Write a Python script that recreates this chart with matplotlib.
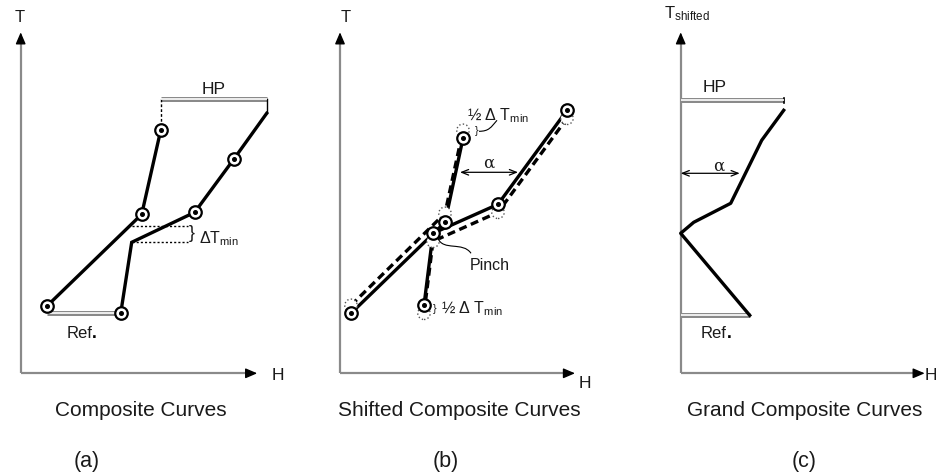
import matplotlib
matplotlib.use("Agg")
import matplotlib.pyplot as plt
from matplotlib.path import Path
from matplotlib.patches import PathPatch

plt.rcParams['font.family'] = ['Liberation Sans', 'DejaVu Sans']
plt.rcParams['mathtext.fontset'] = 'custom'
plt.rcParams['mathtext.rm'] = 'Liberation Sans'
plt.rcParams['mathtext.it'] = 'Liberation Sans'

W, HGT = 936, 476

# ---------------- data (H, T in diagram units) ----------------
# Panel (a) composite curves
a_hot_H = [26, 121, 140]
a_hot_T = [67, 159, 243]
a_cold_H = [100, 111, 174, 213, 246]
a_cold_T = [60, 131, 161, 214, 260]
a_cold_marked = [0, 2, 3]
a_dt_H = [111, 167]
a_dt_T = [131, 147]
a_hp_H = [140, 246]
a_hp_T = 274
a_ref_H = [26, 100]
a_ref_T = 60

# Panel (b) shifted composite curves
b_hot_H = [11, 105, 123]
b_hot_T_shift = [60, 151, 235]
b_hot_T_orig = [68, 160, 243]
b_cold_H = [84, 93, 158, 227]
b_cold_T_shift = [68, 140, 169, 263]
b_cold_T_orig = [60, 132, 161, 255]
b_alpha_H = [120, 178]
b_alpha_T = 201

# Panel (c) grand composite curve
c_H = [69, 0, 13, 50, 81, 103]
c_T = [58, 140, 151, 170, 233, 263]
c_hp_H = [0, 103]
c_hp_T = 273
c_ref_H = [0, 69]
c_ref_T = 58
c_alpha_H = [0, 59]
c_alpha_T = 200

captions = ["Composite Curves", "Shifted Composite Curves", "Grand Composite Curves"]
letters = ["(a)", "(b)", "(c)"]

# ---------------- figure ----------------
fig = plt.figure(figsize=(W / 100, HGT / 100), dpi=100)

AXC = '#8a8a8a'
TXT = '#1a1a1a'


def panel(ox, oy):
    ax = fig.add_axes([0, 0, 1, 1])
    ax.set_xlim(-ox, W - ox)
    ax.set_ylim(oy - HGT, oy)
    ax.axis('off')
    ax.patch.set_alpha(0)
    return ax


def axes_arrows(ax, xend, ytop):
    ax.plot([0, xend - 7], [0, 0], color=AXC, lw=1.6, solid_capstyle='butt')
    ax.plot([0, 0], [0, ytop - 7], color=AXC, lw=1.6, solid_capstyle='butt')
    ax.annotate('', xy=(xend, 0), xytext=(xend - 9, 0),
                arrowprops=dict(arrowstyle='-|>,head_length=0.7,head_width=0.3',
                                color='black', lw=1.0, shrinkA=0, shrinkB=0))
    ax.annotate('', xy=(0, ytop), xytext=(0, ytop - 9),
                arrowprops=dict(arrowstyle='-|>,head_length=0.7,head_width=0.3',
                                color='black', lw=1.0, shrinkA=0, shrinkB=0))


def double_bar(ax, xs, y):
    ax.plot(xs, [y, y], color='#8a8a8a', lw=3.6, solid_capstyle='butt', zorder=2)
    ax.plot(xs, [y, y], color='white', lw=1.2, solid_capstyle='butt', zorder=2.1)


def nodes(ax, xs, ys):
    ax.plot(xs, ys, 'o', ms=9, mfc='white', mec='black', mew=1.6, zorder=6)
    ax.plot(xs, ys, 'o', ms=2.6, color='black', zorder=7)


def dashed_nodes(ax, xs, ys):
    ax.scatter(xs, ys, s=80, facecolors='white', edgecolors='#555555',
               linewidths=1.0, linestyles=':', zorder=4)


def curve(ax, pts, **kw):
    codes = [Path.MOVETO] + [Path.CURVE4] * (len(pts) - 1)
    ax.add_patch(PathPatch(Path(pts, codes), fill=False, **kw))


def ftext(x, y, s, **kw):
    kw.setdefault('color', TXT)
    fig.text(x / W, 1 - y / HGT, s, **kw)


def ref_label(x_end, y):
    ftext(x_end, y, "Ref", ha='right', va='center', fontsize=12)
    ftext(x_end, y, ".", ha='left', va='center', fontsize=12.5, fontweight='bold', color='black')


# ---------------- panel (a) ----------------
oxa, oya = 20.7, 373.3
ax = panel(oxa, oya)
axes_arrows(ax, 236.5, 341)
ax.plot(a_hot_H, a_hot_T, color='black', lw=2.4, zorder=3, solid_joinstyle='miter')
ax.plot(a_cold_H, a_cold_T, color='black', lw=2.4, zorder=3, solid_joinstyle='miter')
nodes(ax, a_hot_H, a_hot_T)
nodes(ax, [a_cold_H[i] for i in a_cold_marked], [a_cold_T[i] for i in a_cold_marked])
for t in a_dt_T:
    ax.plot(a_dt_H, [t, t], color='black', lw=1.0, ls=(0, (1.5, 1.5)), zorder=2)
double_bar(ax, a_hp_H, a_hp_T)
ax.plot([a_hp_H[1], a_hp_H[1]], [a_hp_T, a_cold_T[-1]], color='black', lw=1.0)
ax.plot([a_hp_H[0], a_hp_H[0]], [a_hp_T, a_hot_T[-1] + 7], color='black', lw=1.0, ls=(0, (2, 1.5)))
double_bar(ax, a_ref_H, a_ref_T)
ftext(20, 17, "T", ha='center', va='center', fontsize=12)
ftext(278, 376, "H", ha='center', va='center', fontsize=12.5)
ftext(214, 89, "HP", ha='center', va='center', fontsize=12.5)
ref_label(92, 333)
ftext(191.5, 234, "}", ha='center', va='center', fontsize=13, fontweight='light')
ftext(199, 239, r"ΔT$_{\mathrm{min}}$", ha='left', va='center', fontsize=11.5)

# ---------------- panel (b) ----------------
oxb, oyb = 340, 373.3
ax = panel(oxb, oyb)
axes_arrows(ax, 235, 341)
ax.plot(b_hot_H, b_hot_T_shift, color='black', lw=2.4, zorder=3)
ax.plot(b_cold_H, b_cold_T_shift, color='black', lw=2.4, zorder=3)
ax.plot(b_hot_H, b_hot_T_orig, color='black', lw=2.4, zorder=3.2, dashes=(2.4, 1.4))
ax.plot(b_cold_H, b_cold_T_orig, color='black', lw=2.4, zorder=3.2, dashes=(2.4, 1.4))
dashed_nodes(ax, b_hot_H, b_hot_T_orig)
dashed_nodes(ax, b_cold_H, b_cold_T_orig)
nodes(ax, b_hot_H, b_hot_T_shift)
nodes(ax, b_cold_H, b_cold_T_shift)
ax.annotate('', xy=(b_alpha_H[0], b_alpha_T), xytext=(b_alpha_H[1], b_alpha_T),
            arrowprops=dict(arrowstyle='<->,head_length=0.5,head_width=0.2',
                            color='black', lw=0.9, shrinkA=0, shrinkB=0))
ftext(489, 163, "α", ha='center', va='center', fontsize=12, family='DejaVu Serif')
# pinch leader
pin = (b_cold_H[1], b_cold_T_shift[1])
curve(ax, [(pin[0] + 5, pin[1] - 5), (pin[0] + 10, pin[1] - 18),
           (pin[0] + 30, pin[1] - 8), (pin[0] + 38, pin[1] - 20)],
      color='black', lw=0.8, zorder=5)
ftext(490, 265, "Pinch", ha='center', va='center', fontsize=11.5)
# 1/2 dTmin labels
top = (b_hot_H[2], b_hot_T_orig[2])
ftext(477, 131, "}", ha='center', va='center', fontsize=8)
curve(ax, [(top[0] + 16, top[1] - 1), (top[0] + 26, top[1] - 1),
           (top[0] + 28, top[1] + 3), (top[0] + 34, top[1] + 10)],
      color='black', lw=0.8, zorder=5)
ftext(467, 116, r"½ Δ T$_{\mathrm{min}}$", ha='left', va='center', fontsize=11.5)
ftext(435, 309, "}", ha='center', va='center', fontsize=8)
ftext(441, 309, r"½ Δ T$_{\mathrm{min}}$", ha='left', va='center', fontsize=11.5)
ftext(346, 17, "T", ha='center', va='center', fontsize=12)
ftext(585, 383, "H", ha='center', va='center', fontsize=12.5)

# ---------------- panel (c) ----------------
oxc, oyc = 680.7, 373.3
ax = panel(oxc, oyc)
axes_arrows(ax, 244, 341)
ax.plot(c_H, c_T, color='black', lw=2.4, zorder=3)
double_bar(ax, c_hp_H, c_hp_T)
ax.plot([c_hp_H[1], c_hp_H[1]], [c_hp_T + 2, c_hp_T - 3], color='black', lw=1.2)
double_bar(ax, c_ref_H, c_ref_T)
ax.annotate('', xy=(c_alpha_H[0], c_alpha_T), xytext=(c_alpha_H[1], c_alpha_T),
            arrowprops=dict(arrowstyle='<->,head_length=0.5,head_width=0.2',
                            color='black', lw=0.9, shrinkA=0, shrinkB=0))
ftext(719, 166, "α", ha='center', va='center', fontsize=12, family='DejaVu Serif')
ftext(715, 87, "HP", ha='center', va='center', fontsize=12.5)
ref_label(727, 333)
ftext(664, 14, r"T$_{\mathrm{shifted}}$", ha='left', va='center', fontsize=12)
ftext(925, 376, "H", ha='left', va='center', fontsize=12.5)

# ---------------- captions ----------------
for cx, s in zip([141, 459, 805], captions):
    ftext(cx, 410, s, ha='center', va='center', fontsize=15)
for cx, s in zip([87, 446, 804], letters):
    ftext(cx, 461, s, ha='center', va='center', fontsize=15.5)

fig.savefig("out.png", dpi=100)
